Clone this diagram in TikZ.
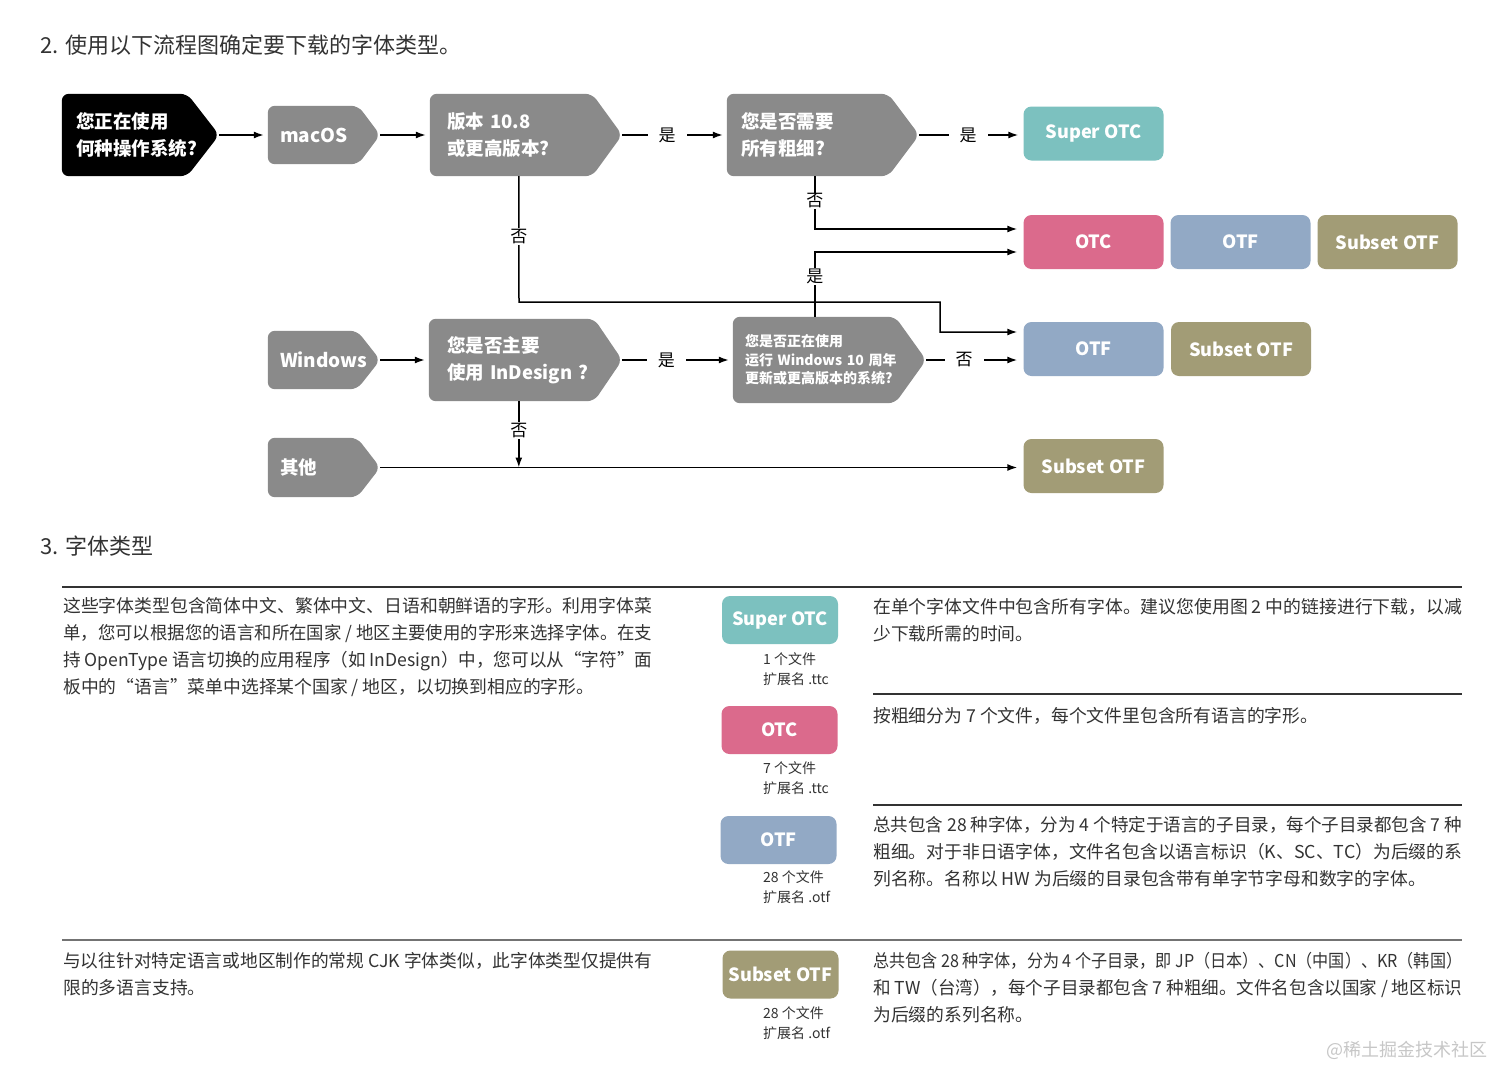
\documentclass[tikz,border=0pt]{standalone}
\usepackage{fontspec}
\usepackage{graphicx}
\setmainfont{Noto Sans CJK SC}
\usetikzlibrary{arrows.meta}
\pgfdeclarelayer{bg}\pgfsetlayers{bg,main}
\definecolor{boxgray}{HTML}{8A8A8A}
\definecolor{cSuper}{HTML}{7CC1BF}
\definecolor{cOTC}{HTML}{DB6A8C}
\definecolor{cOTF}{HTML}{92A9C5}
\definecolor{cSub}{HTML}{A29C76}
\definecolor{txt}{HTML}{333333}
\newcommand\pent[3]{\fill[#2,rounded corners=7pt] (#1.north west) -- ([xshift=-#3pt]#1.north east) -- (#1.east) -- ([xshift=-#3pt]#1.south east) -- (#1.south west) -- cycle;}
\newcommand\mlines[1]{\vtop{\baselineskip=27pt #1}}
\newcommand\slines[1]{\vtop{\baselineskip=20pt #1}}
\newcommand\jl[1]{\hbox{\resizebox{589pt}{\height}{#1}}}
\begin{document}
\begin{tikzpicture}[x=1pt,y=-1pt,
  fb/.style={rectangle, inner sep=0pt, text=white, align=left, font=\bfseries\fontsize{18.5}{27}\selectfont},
  fbs/.style={fb, font=\bfseries\fontsize{19}{24}\selectfont},
  pill/.style={rectangle, rounded corners=8pt, inner sep=0pt, text=white, font=\bfseries\fontsize{18.2}{22}\selectfont, minimum width=140, minimum height=54},
  tpill/.style={pill, minimum width=116, minimum height=48},
  arr/.style={line width=1.5pt, -{Latex[length=10pt,width=7pt]}},
  lab/.style={fill=white, inner xsep=11pt, inner ysep=1pt, font=\fontsize{17}{20}\selectfont, text=black},
  body/.style={inner sep=0pt, anchor=base west, text=txt, font=\fontsize{17.8}{27}\selectfont},
  small/.style={inner sep=0pt, anchor=base west, text=txt, font=\fontsize{14}{20}\selectfont},
  head/.style={inner sep=0pt, anchor=base west, text=txt, font=\fontsize{22}{26}\selectfont},
  rule/.style={line width=1.2pt, draw=txt}]
\path[use as bounding box] (0,0) rectangle (1494,1066);
\begin{pgfonlayer}{bg}
\fill[white] (0,0) rectangle (1494,1066);
\end{pgfonlayer}

% titles
\node[head] (h2) at (40,53) {2. 使用以下流程图确定要下载的字体类型。};
\node[head] (h3) at (40,554) {3. 字体类型};

% flow boxes
\node[fb, minimum width=157, minimum height=82, text width=129] (q) at (140.5,135) {您正在使用\\何种操作系统?};
\node[fbs, minimum width=112, minimum height=58, text width=88] (mac) at (324,135) {macOS};
\node[fb, minimum width=192, minimum height=82, text width=158] (ver) at (526,135) {版本 10.8\\或更高版本?};
\node[fb, minimum width=192, minimum height=82, text width=164] (all) at (823,135) {您是否需要\\所有粗细?};
\node[fbs, minimum width=112, minimum height=58, text width=88] (win) at (324,360) {Windows};
\node[fb, minimum width=193, minimum height=82, text width=157] (ind) at (525.5,360) {您是否主要\\使用 InDesign ?};
\node[fb, minimum width=193, minimum height=86, text width=169, font=\bfseries\fontsize{14}{18.5}\selectfont] (w10) at (829.5,360) {您是否正在使用\\运行 Windows 10 周年\\更新或更高版本的系统?};
\node[fb, minimum width=112, minimum height=59, text width=88] (oth) at (324,467.5) {其他};

\begin{pgfonlayer}{bg}
\pent{q}{black}{32}
\pent{mac}{boxgray}{22}
\pent{ver}{boxgray}{30}
\pent{all}{boxgray}{31}
\pent{win}{boxgray}{23}
\pent{ind}{boxgray}{28}
\pent{w10}{boxgray}{31}
\pent{oth}{boxgray}{23}
\end{pgfonlayer}

% result pills
\node[pill, fill=cSuper] (sotc) at (1093.5,133.5) {Super OTC};
\node[pill, fill=cOTC] (otc1) at (1093.5,242) {OTC};
\node[pill, fill=cOTF] (otf1) at (1240.5,242) {OTF};
\node[pill, fill=cSub] (sub1) at (1387.5,242) {Subset OTF};
\node[pill, fill=cOTF] (otf2) at (1093.5,349) {OTF};
\node[pill, fill=cSub] (sub2) at (1241,349) {Subset OTF};
\node[pill, fill=cSub] (sub3) at (1093.5,466) {Subset OTF};

% connectors
\coordinate (j1) at (519,302);
\coordinate (j2) at (940,302);
\coordinate (indb) at ([xshift=90pt]ind.south west);
\draw[arr, shorten >=4pt] (q.east) -- (mac.west);
\draw[arr, shorten >=4pt] (mac.east) -- (ver.west);
\draw[arr, shorten >=4pt] (ver.east) -- node[lab,pos=.43]{是} (all.west);
\draw[arr, shorten >=5pt] (all.east) -- node[lab,pos=.47]{是} (all.east -| sotc.west);
\draw[arr, shorten >=6pt] ([xshift=88pt]all.south west) |- node[lab,pos=.235]{否} ([yshift=13pt]otc1.west);
\draw[arr, shorten >=6pt] ([xshift=89pt]ver.south west) -- node[lab,pos=.48]{否} (j1) -- (j2) |- ([yshift=17pt]otf2.west);
\draw[arr, shorten >=6pt] ([xshift=82pt]w10.north west) |- node[lab,pos=.31]{是} ([yshift=-10pt]otc1.west);
\draw[arr, shorten >=4pt] (win.east) -- (win.east -| ind.west);
\draw[arr, shorten >=4pt] (ind.east) -- node[lab,pos=.40]{是} (w10.west);
\draw[arr, shorten >=6pt] (w10.east) -- node[lab,pos=.39]{否} (w10.east -| otf2.west);
\draw[arr] (indb) -- node[lab,pos=.44]{否} (indb |- oth.east);
\draw[arr, shorten >=6pt] (oth.east) -- (oth.east -| sub3.west);

% table
\draw[rule] (62,587) -- (1462,587);
\draw[rule] (873,694) -- (1462,694);
\draw[rule] (873,805) -- (1462,805);
\draw[rule, draw=black!55] (62,940) -- (1462,940);

\node[body] (p1) at (63,612.5) {\mlines{\jl{这些字体类型包含简体中文、繁体中文、日语和朝鲜语的字形。利用字体菜}\jl{单，您可以根据您的语言和所在国家 / 地区主要使用的字形来选择字体。在支}\jl{持 OpenType 语言切换的应用程序（如 InDesign）中，您可以从“字符”面}\hbox{板中的“语言”菜单中选择某个国家 / 地区，以切换到相应的字形。}}};
\node[body] (p2) at (63,967) {\mlines{\jl{与以往针对特定语言或地区制作的常规 CJK 字体类似，此字体类型仅提供有}\hbox{限的多语言支持。}}};

\node[tpill, fill=cSuper] (t1) at (780,620) {Super OTC};
\node[tpill, fill=cOTC] (t2) at (779.5,730) {OTC};
\node[tpill, fill=cOTF] (t3) at (778.5,840) {OTF};
\node[tpill, fill=cSub] (t4) at (780.5,974.5) {Subset OTF};

\node[small] (s1) at (763,664) {\slines{\hbox{1 个文件}\hbox{扩展名 .ttc}}};
\node[small] (s2) at (763,773) {\slines{\hbox{7 个文件}\hbox{扩展名 .ttc}}};
\node[small] (s3) at (763,882) {\slines{\hbox{28 个文件}\hbox{扩展名 .otf}}};
\node[small] (s4) at (763,1018) {\slines{\hbox{28 个文件}\hbox{扩展名 .otf}}};

\node[body] (d1) at (873,613) {\mlines{\jl{在单个字体文件中包含所有字体。建议您使用图 2 中的链接进行下载，以减}\hbox{少下载所需的时间。}}};
\node[body] (d2) at (873,722) {按粗细分为 7 个文件，每个文件里包含所有语言的字形。};
\node[body] (d3) at (873,831) {\mlines{\jl{总共包含 28 种字体，分为 4 个特定于语言的子目录，每个子目录都包含 7 种}\jl{粗细。对于非日语字体，文件名包含以语言标识（K、SC、TC）为后缀的系}\hbox{列名称。名称以 HW 为后缀的目录包含带有单字节字母和数字的字体。}}};
\node[body] (d4) at (873,967) {\mlines{\jl{总共包含 28 种字体，分为 4 个子目录，即 JP（日本）、CN（中国）、KR（韩国）}\jl{和 TW（台湾），每个子目录都包含 7 种粗细。文件名包含以国家 / 地区标识}\hbox{为后缀的系列名称。}}};

\node[inner sep=0pt, anchor=base east, text=black!22, font=\fontsize{18}{20}\selectfont] (wm) at (1488,1056) {@稀土掘金技术社区};
\end{tikzpicture}
\end{document}
